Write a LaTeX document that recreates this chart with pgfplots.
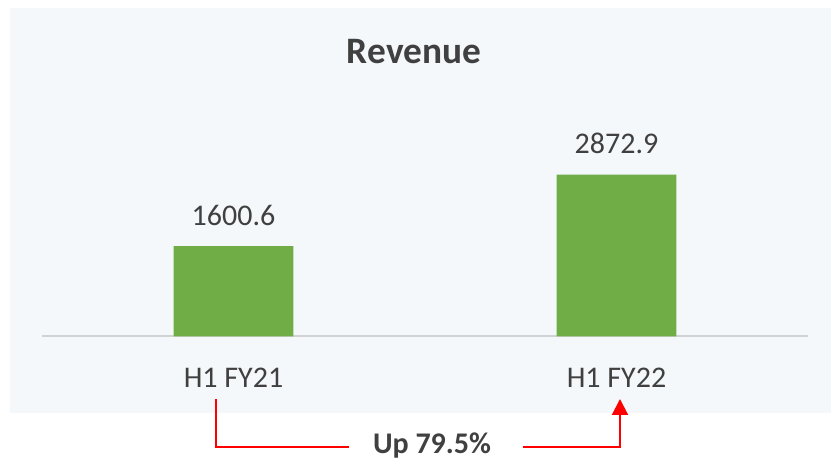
\documentclass[border=0pt]{standalone}
\usepackage{pgfplots}
\pgfplotsset{compat=1.18}
\usetikzlibrary{arrows.meta}
\usepackage{fontspec}
\setmainfont{Carlito}
\definecolor{bg}{HTML}{F5F8FB}
\definecolor{bargreen}{HTML}{70AD47}
\definecolor{txt}{HTML}{404040}
\definecolor{axisgray}{HTML}{D0D2D4}
\begin{document}
\begin{tikzpicture}[x=0.75pt,y=0.75pt]
\path[use as bounding box] (0,0) rectangle (831,460);
\fill[bg] (10,47) rectangle (831,452);
\begin{axis}[
  at={(31.5pt,92.625pt)}, anchor=south west,
  scale only axis, width=574.5pt, height=150pt,
  xmin=-0.5, xmax=1.5, ymin=0, ymax=3547,
  axis x line*=bottom, axis y line=none,
  x axis line style={-, draw=axisgray, line width=1.5pt},
  xtick={0,1}, xticklabels={H1 FY21, H1 FY22}, major tick length=0,
  xticklabel style={font=\fontsize{22.5}{27}\selectfont, text=txt, anchor=base, yshift=-38.25pt},
  ybar, bar width=0.313,
  nodes near coords,
  every node near coord/.append style={font=\fontsize{22.5}{27}\selectfont, text=txt, anchor=base, yshift=15.75pt},
  /pgf/number format/fixed, /pgf/number format/precision=1, /pgf/number format/fixed zerofill,
  /pgf/number format/1000 sep={}, /pgf/number format/assume math mode=true,
  clip=false,
]
\addplot[fill=bargreen, draw=none] coordinates {(0,1600.6) (1,2872.9)};
\end{axis}
\node[anchor=base, font=\bfseries\fontsize{28}{33}\selectfont, text=txt] at (414,396) {Revenue};
\draw[red, line width=1.6pt] (216,61) -- (216,13) -- (349,13);
\draw[red, line width=1.6pt, -{Triangle[width=12pt,length=12pt]}] (523,13) -- (620,13) -- (620,61);
\node[anchor=base, font=\bfseries\fontsize{22.5}{27}\selectfont, text=txt] at (432,6) {Up 79.5\%};
\end{tikzpicture}
\end{document}
